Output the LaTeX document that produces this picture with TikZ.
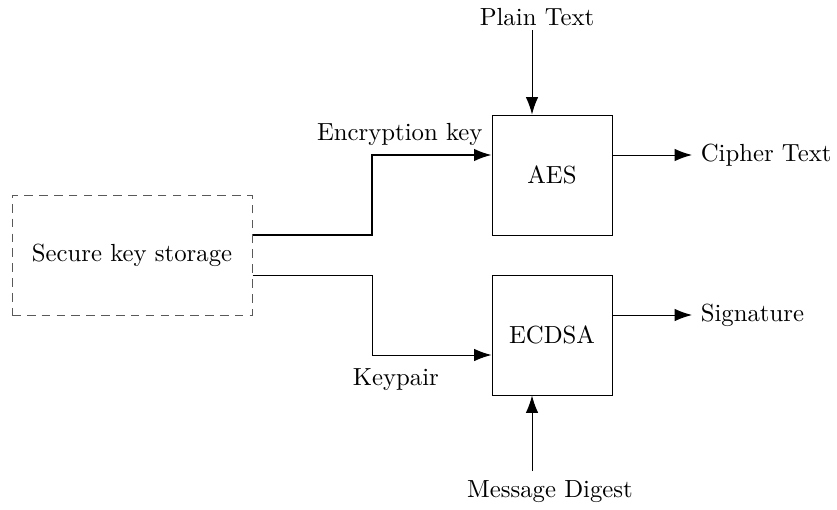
\documentclass[tikz,border=0pt]{standalone}
\usepackage{tikz}
\usetikzlibrary{arrows.meta,positioning}

\begin{document}
\begin{tikzpicture}[>={Latex[length=7pt,width=5pt]}, x=0.568cm, y=0.568cm,
    block/.style={draw, minimum width=1.704cm, minimum height=1.704cm},
    keystore/.style={draw=black!65, dash pattern=on 3.5pt off 2.5pt, minimum width=3.408cm, minimum height=1.704cm}]
    \useasboundingbox (-0.3,-4.85) rectangle (20.625,7.875);

    % Key storage and the two crypto blocks
    \node (store) at (3,1.5) [keystore] {Secure key storage};
    \node (aes) at (13.5,3.5) [block] {AES};
    \node (ecdsa) at (13.5,-0.5) [block] {ECDSA};

    % Inputs
    \node (plain) at (13.125,7.45) {Plain Text};
    \node (digest) at (13.45,-4.41) {Message Digest};
    \coordinate (pin) at (13,7.12);
    \coordinate (din) at (13,-3.9);
    \draw[->] (pin) -- (pin |- aes.north);
    \draw[->] (din) -- (din |- ecdsa.south);

    % Outputs
    \node (cipher) at (17,4) [anchor=west] {Cipher Text};
    \node (sig) at (17,0) [anchor=west] {Signature};
    \draw[->] (aes.east |- cipher) -- (cipher);
    \draw[->] (ecdsa.east |- sig) -- (sig);

    % Keys going out of the storage
    \draw[semithick, ->] (store.east |- 0,2) -- (9,2) |- (aes.west |- 0,4) node[above left] {Encryption key};
    \draw[->] (store.east |- 0,1) -- (9,1) |- (ecdsa.west |- 0,-1) node[pos=0.6, below=2pt] {Keypair};
\end{tikzpicture}
\end{document}
